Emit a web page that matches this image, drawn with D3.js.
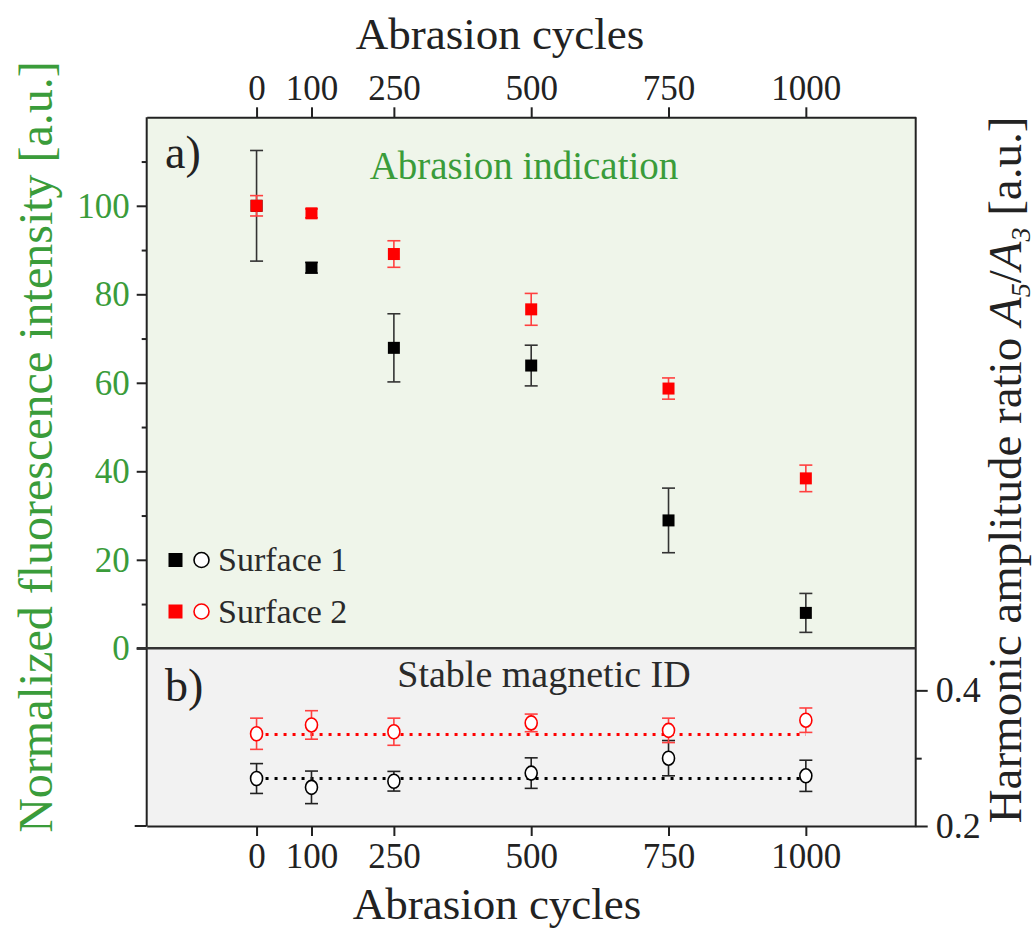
<!DOCTYPE html>
<html><head><meta charset="utf-8">
<script src="https://cdn.jsdelivr.net/npm/d3@7"></script>
<style>body{margin:0;background:#fff}svg text{font-family:"Liberation Serif","Times New Roman",serif}</style>
</head><body>
<svg id="c" width="1035" height="931"></svg>
<script>
const cycles = [0, 100, 250, 500, 750, 1000];
const fluor1 = [100, 86.0, 67.9, 63.9, 28.9, 8.0];
const fluor1Err = [12.5, 1.2, 7.7, 4.6, 7.3, 4.4];
const fluor2 = [100, 98.3, 89.1, 76.6, 58.7, 38.4];
const fluor2Err = [2.3, 1.0, 3.0, 3.6, 2.4, 3.0];
const ratio1 = [0.270, 0.257, 0.266, 0.278, 0.300, 0.274];
const ratio1Err = [0.022, 0.024, 0.0145, 0.0225, 0.026, 0.023];
const ratio2 = [0.336, 0.349, 0.339, 0.352, 0.341, 0.356];
const ratio2Err = [0.023, 0.021, 0.020, 0.013, 0.018, 0.018];
const ratioMean = [0.270, 0.335];
const leftTicks = [0, 20, 40, 60, 80, 100];
const rightTicks = [0.2, 0.4];
const seriesNames = ["Surface 1", "Surface 2"];

const GREEN = "#3a9c3a", RED = "#ff0000", ERRRED = "#ff4040", DARK = "#222";
const svg = d3.select("#c");
const L = 146.7, R = 915.7, T = 117.3, M = 648.3, B = 826;
const x = d3.scaleLinear().domain([-200, 1200]).range([L, R]);
const yT = d3.scaleLinear().domain([0, 120]).range([M, T]);
const yB = d3.scaleLinear().domain([0.2, 0.462]).range([B, M]);

// panel backgrounds
svg.append("rect").attr("x", L).attr("y", T).attr("width", R - L).attr("height", M - T).attr("fill", "#eff5ea");
svg.append("rect").attr("x", L).attr("y", M).attr("width", R - L).attr("height", B - M).attr("fill", "#f2f2f2");

function styleAxis(g, color, size) {
  g.selectAll("path").attr("stroke", DARK).attr("stroke-width", 2);
  g.selectAll("line").attr("stroke", DARK).attr("stroke-width", 2);
  g.selectAll("text").attr("fill", color).attr("font-size", size).attr("font-family", "Liberation Serif");
}

// top x axis
const gTop = svg.append("g").attr("transform", `translate(0,${T})`)
  .call(d3.axisTop(x).tickValues(cycles).tickSize(10).tickSizeOuter(0).tickPadding(7).tickFormat(d3.format("d")));
styleAxis(gTop, DARK, 35);
// bottom x axis
const gBot = svg.append("g").attr("transform", `translate(0,${B})`)
  .call(d3.axisBottom(x).tickValues(cycles).tickSize(10).tickSizeOuter(0).tickPadding(7).tickFormat(d3.format("d")));
styleAxis(gBot, DARK, 35);
// left minor ticks
const gLm = svg.append("g").attr("transform", `translate(${L},0)`)
  .call(d3.axisLeft(yT).tickValues(d3.range(10, 120, 20)).tickSize(5).tickSizeOuter(0).tickFormat(""));
styleAxis(gLm, GREEN, 31);
gLm.select("path").remove();
// left axis
const gL = svg.append("g").attr("transform", `translate(${L},0)`)
  .call(d3.axisLeft(yT).tickValues(leftTicks).tickSize(10).tickSizeOuter(0).tickPadding(7));
styleAxis(gL, GREEN, 35);
gL.select("path").attr("d", `M0,${T}V${B}`);
svg.append("line").attr("x1", L - 12).attr("x2", L).attr("y1", B).attr("y2", B).attr("stroke", DARK).attr("stroke-width", 2);
// right axis
const gRm = svg.append("g").attr("transform", `translate(${R},0)`)
  .call(d3.axisRight(yB).tickValues([0.3]).tickSize(6).tickSizeOuter(0).tickFormat(""));
styleAxis(gRm, DARK, 32);
gRm.select("path").remove();
const gR = svg.append("g").attr("transform", `translate(${R},0)`)
  .call(d3.axisRight(yB).tickValues(rightTicks).tickSize(12).tickSizeOuter(0).tickPadding(8).tickFormat(d3.format(".1f")));
styleAxis(gR, DARK, 36);
gR.select("path").attr("d", `M0,${T}V${B}`);
// separator
svg.append("line").attr("x1", L - 10).attr("x2", R).attr("y1", M).attr("y2", M).attr("stroke", "#333").attr("stroke-width", 2.5);

// titles
svg.append("text").attr("x", 500).attr("y", 49).attr("text-anchor", "middle").attr("font-size", 45).attr("fill", DARK).text("Abrasion cycles");
svg.append("text").attr("x", 497).attr("y", 919).attr("text-anchor", "middle").attr("font-size", 45).attr("fill", DARK).text("Abrasion cycles");
svg.append("text").attr("transform", "translate(52,447) rotate(-90)").attr("text-anchor", "middle").attr("font-size", 48).attr("fill", GREEN)
  .text("Normalized fluorescence intensity [a.u.]");
const rt = svg.append("text").attr("transform", "translate(1021,470) rotate(-90)").attr("text-anchor", "middle").attr("font-size", 47).attr("fill", DARK);
rt.append("tspan").text("Harmonic amplitude ratio ");
rt.append("tspan").attr("font-style", "italic").text("A");
rt.append("tspan").attr("font-size", 28).attr("font-style", "italic").attr("dy", 9).text("5");
rt.append("tspan").attr("dy", -9).text("/");
rt.append("tspan").attr("font-style", "italic").text("A");
rt.append("tspan").attr("font-size", 28).attr("font-style", "italic").attr("dy", 9).text("3");
rt.append("tspan").attr("dy", -9).text(" [a.u.]");

svg.append("text").attr("x", 165).attr("y", 168).attr("font-size", 46).attr("fill", DARK).text("a)");
svg.append("text").attr("x", 165).attr("y", 701).attr("font-size", 46).attr("fill", DARK).text("b)");
svg.append("text").attr("x", 524).attr("y", 179).attr("text-anchor", "middle").attr("font-size", 39).attr("fill", GREEN).text("Abrasion indication");
svg.append("text").attr("x", 544).attr("y", 687).attr("text-anchor", "middle").attr("font-size", 38).attr("fill", "#2a2a2a").text("Stable magnetic ID");

// error bars helper
function errBars(vals, errs, y, color, capW) {
  const g = svg.append("g").attr("stroke", color).attr("stroke-width", 1.6).attr("fill", "none");
  cycles.forEach((c, i) => {
    const cx = x(c), y1 = y(vals[i] + errs[i]), y2 = y(vals[i] - errs[i]);
    g.append("line").attr("x1", cx).attr("x2", cx).attr("y1", y1).attr("y2", y2);
    g.append("line").attr("x1", cx - capW / 2).attr("x2", cx + capW / 2).attr("y1", y1).attr("y2", y1);
    g.append("line").attr("x1", cx - capW / 2).attr("x2", cx + capW / 2).attr("y1", y2).attr("y2", y2);
  });
}
function squares(vals, y, color) {
  svg.append("g").selectAll("rect").data(cycles).join("rect")
    .attr("x", (d) => x(d) - 6).attr("y", (d, i) => y(vals[i]) - 6).attr("width", 12).attr("height", 12).attr("fill", color);
}
function circles(vals, y, color) {
  svg.append("g").selectAll("ellipse").data(cycles).join("ellipse")
    .attr("cx", (d) => x(d)).attr("cy", (d, i) => y(vals[i])).attr("rx", 6).attr("ry", 7)
    .attr("fill", "#fff").attr("stroke", color).attr("stroke-width", 1.6);
}

// top panel
errBars(fluor1, fluor1Err, yT, "#333", 13);
squares(fluor1, yT, "#000");
errBars(fluor2, fluor2Err, yT, ERRRED, 13);
squares(fluor2, yT, RED);

// bottom panel mean lines
[["#000", ratioMean[0]], [RED, ratioMean[1]]].forEach(([col, v]) => {
  svg.append("line").attr("x1", x(0)).attr("x2", x(1000)).attr("y1", yB(v)).attr("y2", yB(v))
    .attr("stroke", col).attr("stroke-width", 3).attr("stroke-dasharray", "3,6");
});
errBars(ratio1, ratio1Err, yB, "#222", 13);
circles(ratio1, yB, "#000");
errBars(ratio2, ratio2Err, yB, ERRRED, 13);
circles(ratio2, yB, RED);

// legend
const leg = [["#000", 560], [RED, 611.5]];
leg.forEach(([col, ly], i) => {
  svg.append("rect").attr("x", 168.5).attr("y", ly - 7).attr("width", 14).attr("height", 14).attr("fill", col);
  svg.append("circle").attr("cx", 201.5).attr("cy", ly).attr("r", 7.5).attr("fill", "#fff").attr("stroke", col).attr("stroke-width", 1.6);
  svg.append("text").attr("x", 218).attr("y", ly + 11).attr("font-size", 34).attr("fill", "#2a2a2a").text(seriesNames[i]);
});
</script>
</body></html>
